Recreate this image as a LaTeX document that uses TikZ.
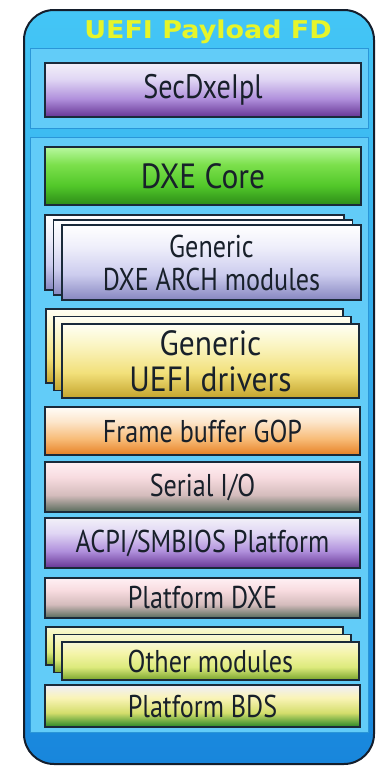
\documentclass[tikz,border=0pt]{standalone}
\usepackage{fontspec}
\setmainfont[FakeStretch=0.83]{PT Sans}
\newfontfamily\bigfont[FakeStretch=0.9]{PT Sans}
\newfontfamily\titlefont[FakeStretch=1.1]{DejaVu Sans}
\usepackage{tikz}
\usetikzlibrary{positioning}

\definecolor{fd-line}{HTML}{141E2C}
\definecolor{fd-top}{HTML}{44C6F6}
\definecolor{fd-bottom}{HTML}{1886DC}
\definecolor{fd-panel}{HTML}{62CCF8}
\definecolor{fd-panel-line}{HTML}{2A96D8}
\definecolor{fd-title}{HTML}{E6F52A}
\definecolor{box-line}{HTML}{1A2A3A}
\definecolor{box-text}{HTML}{18202A}

% box colours: top, upper, middle, bottom
\definecolor{sec-a}{HTML}{F2F0F8}\definecolor{sec-b}{HTML}{E0D6F4}
\definecolor{sec-c}{HTML}{B090DC}\definecolor{sec-d}{HTML}{663494}
\definecolor{core-a}{HTML}{B8F8A0}\definecolor{core-b}{HTML}{7CE04C}
\definecolor{core-c}{HTML}{52C82A}\definecolor{core-d}{HTML}{2C8C18}
\definecolor{arch-a}{HTML}{FFFFFF}\definecolor{arch-b}{HTML}{EEEEFA}
\definecolor{arch-c}{HTML}{CCCCEE}\definecolor{arch-d}{HTML}{8686C0}
\definecolor{drv-a}{HTML}{FFFFF4}\definecolor{drv-b}{HTML}{FAF4C0}
\definecolor{drv-c}{HTML}{F2E07A}\definecolor{drv-d}{HTML}{C4A42C}
\definecolor{gop-a}{HTML}{FFFDF8}\definecolor{gop-b}{HTML}{FCE6CC}
\definecolor{gop-c}{HTML}{F8BC78}\definecolor{gop-d}{HTML}{E68024}
\definecolor{ser-a}{HTML}{FFF0F4}\definecolor{ser-b}{HTML}{F8DCE0}
\definecolor{ser-c}{HTML}{D4BCBC}\definecolor{ser-d}{HTML}{566A5A}
\definecolor{oth-a}{HTML}{F8F8D8}\definecolor{oth-b}{HTML}{F4F4A8}
\definecolor{oth-c}{HTML}{DCEA7C}\definecolor{oth-d}{HTML}{78A42C}
\definecolor{bds-a}{HTML}{EEEEFA}\definecolor{bds-b}{HTML}{FAF4B8}
\definecolor{bds-c}{HTML}{D4DE6C}\definecolor{bds-d}{HTML}{268626}

\newcommand\boxshade[1]{%
  \pgfdeclareverticalshading{#1shade}{100bp}{color(0bp)=(#1-d); color(25bp)=(#1-d);
    color(42bp)=(#1-c); color(60bp)=(#1-b); color(75bp)=(#1-a); color(100bp)=(#1-a)}}
\boxshade{sec}\boxshade{core}\boxshade{arch}\boxshade{drv}
\boxshade{gop}\boxshade{ser}\boxshade{oth}\boxshade{bds}

\tikzset{
  modbox/.style={draw=box-line, line width=1.5pt, inner sep=0pt, align=center,
    text=box-text, font=\fontsize{31.5}{33}\selectfont, shade, shading=#1shade},
  bigtext/.style={font=\bigfont\fontsize{35}{36}\selectfont}
}

\begin{document}
\begin{tikzpicture}[x=1pt, y=-1pt]
  \useasboundingbox (0,0) rectangle (378,766);

  % outer firmware device
  \draw[fd-line, line width=2pt, top color=fd-top, bottom color=fd-bottom, rounded corners=30pt]
    (24,10) rectangle (374,764);
  \node[font=\titlefont\bfseries\fontsize{24.5}{26}\selectfont, text=fd-title] (title) at (208,32)
    {UEFI Payload FD};

  % the two panels
  \draw[fd-panel-line, fill=fd-panel] (30,48) rectangle (368,128);
  \draw[fd-panel-line, fill=fd-panel] (30,137) rectangle (368,732);

  \node[modbox=sec, font=\fontsize{34}{34}\selectfont, minimum width=316pt, minimum height=54pt] (sec) at (203,90) {SecDxeIpl};
  \node[modbox=core, bigtext, minimum width=316pt, minimum height=58pt] (dxecore) at (203,176) {DXE Core};

  \foreach \d in {2,1}
    \node[modbox=arch, minimum width=299pt, minimum height=75pt] (arch\d) at (211.5-8.5*\d,262.5-5*\d) {};
  \node[modbox=arch, minimum width=299pt, minimum height=75pt] (arch) at (211.5,262.5)
    {Generic\\DXE ARCH modules};

  \foreach \d in {2,1}
    \node[modbox=drv, minimum width=297pt, minimum height=74pt] (uefidrv\d) at (210.5-8*\d,361-7.5*\d) {};
  \node[modbox=drv, bigtext, minimum width=297pt, minimum height=74pt] (uefidrv) at (210.5,361)
    {Generic\\UEFI drivers};

  \node[modbox=gop, minimum width=315pt, minimum height=48pt] (gop) at (202.5,431) {Frame buffer GOP};
  \node[modbox=ser, minimum width=315pt, minimum height=50pt] (serial) at (202.5,487) {Serial I/O};
  \node[modbox=sec, minimum width=315pt, minimum height=50pt] (acpi) at (202.5,543) {ACPI/SMBIOS Platform};
  \node[modbox=ser, minimum width=315pt, minimum height=40pt] (platdxe) at (202.5,598) {Platform DXE};

  \foreach \d in {2,1}
    \node[modbox=oth, minimum width=297pt, minimum height=38pt] (other\d) at (210.5-8*\d,661-7.5*\d) {};
  \node[modbox=oth, minimum width=297pt, minimum height=38pt] (other) at (210.5,661) {Other modules};

  \node[modbox=bds, minimum width=315pt, minimum height=42pt] (bds) at (202.5,706) {Platform BDS};

\end{tikzpicture}
\end{document}
